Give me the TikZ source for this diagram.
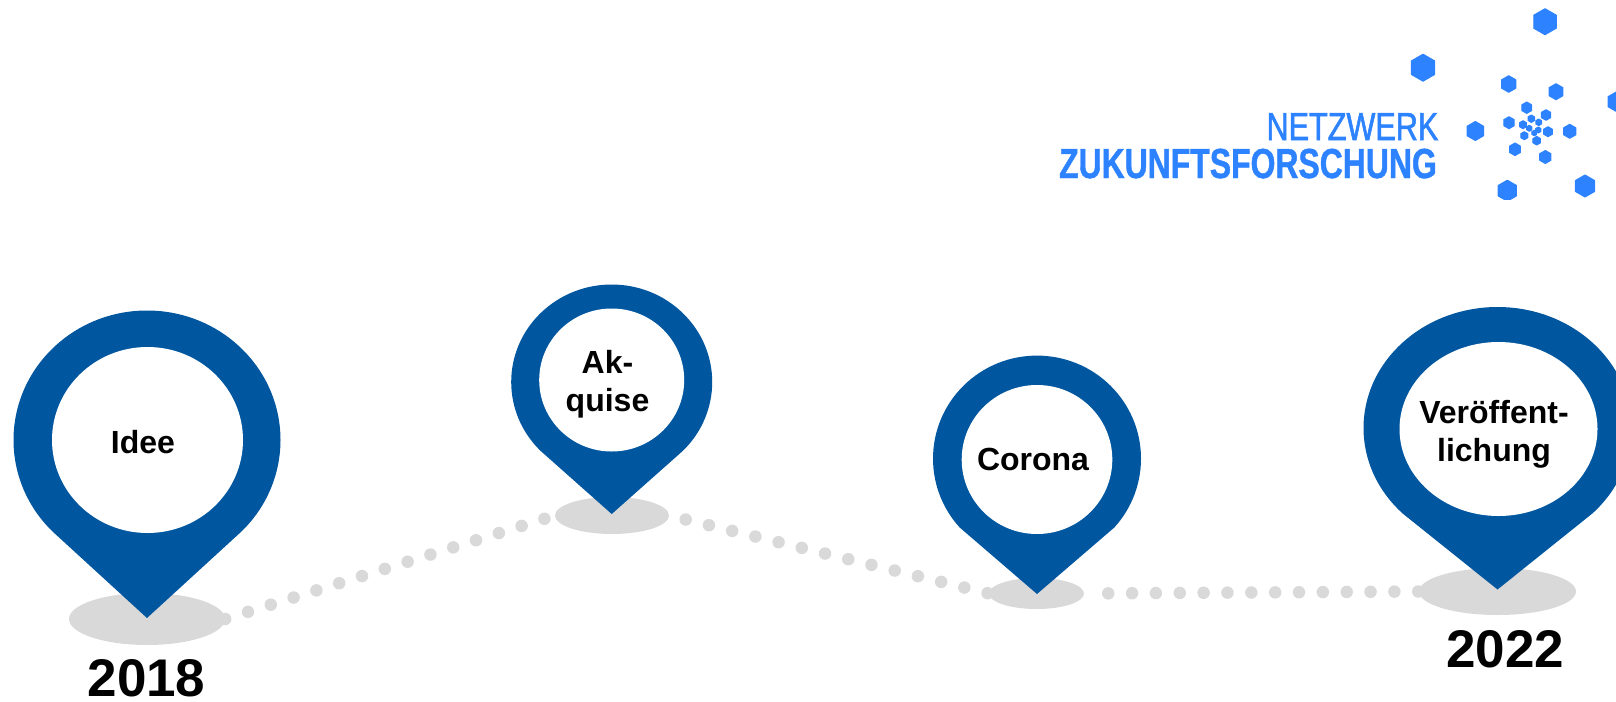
\documentclass[tikz,border=0pt]{standalone}
\usepackage{fontspec}
\setmainfont{Liberation Sans}
\newfontfamily\logoregular[FakeStretch=0.785,FakeBold=1.5]{Liberation Sans}
\newfontfamily\logobold[FakeStretch=0.76,FakeBold=1]{Liberation Sans}
\usetikzlibrary{shapes.geometric}
\definecolor{pinblue}{RGB}{1,86,160}
\definecolor{shadowgrey}{RGB}{217,217,217}
\definecolor{logoblue}{RGB}{44,130,255}
\tikzset{
  shadowell/.style={ellipse,fill=shadowgrey,inner sep=0pt,draw=none},
  dotline/.style={draw=shadowgrey,line width=12.5pt,line cap=round,dash pattern=on 0pt off #1},
  pinlabel/.style={font=\fontsize{32}{37.5}\selectfont\bfseries,align=center,text=black,inner sep=0pt},
  yearlabel/.style={font=\fontsize{53}{60}\selectfont\bfseries,text=black,inner sep=0pt},
}
\def\pinang{45}
\newcommand{\mappin}[9]{%
  \pgfmathsetmacro{\pinstart}{180-\pinang}%
  \pgfmathsetmacro{\pinend}{360+\pinang}%
  \fill[pinblue] (#1,#2) ++(\pinstart:#3 and #4) arc[start angle=\pinstart,end angle=\pinend,x radius=#3,y radius=#4] -- (#1,#9) -- cycle;
  \fill[white] (#5,#8) ellipse[x radius=#6,y radius=#7];
}
\newcommand{\hexa}[3]{%
  \filldraw[logoblue,line width=1pt,line join=round,shift={(#1,#2)}] (90:#3)--(150:#3)--(210:#3)--(270:#3)--(330:#3)--(30:#3)--cycle;
}
\begin{document}
\begin{tikzpicture}[x=1pt,y=-1pt]
\useasboundingbox (0,0) rectangle (1616,701);
\clip (0,0) rectangle (1616,701);
% shadows
\node[shadowell,minimum width=156pt,minimum height=52pt] (s1) at (147,619) {};
\node[shadowell,minimum width=114pt,minimum height=37pt] (s2) at (612,515.5) {};
\node[shadowell,minimum width=95pt,minimum height=31pt] (s3) at (1036.5,593.5) {};
\node[shadowell,minimum width=157pt,minimum height=47pt] (s4) at (1497.5,591.5) {};
% connectors
\draw[dotline=23.9pt] (s1.east) -- (s2.west);
\draw[dotline=23.9pt,shorten <=17pt] (s2.east) -- (s3.west);
\draw[dotline=23.85pt,shorten <=24pt] (s3.east) -- (s4.west);
% pins
\mappin{147}{440}{133.5}{129.5}{147.5}{95.5}{93}{440}{618}
\mappin{611.7}{382}{100.5}{97.5}{611.7}{72.5}{71.5}{380}{514}
\def\pinang{42}
\mappin{1037}{458.6}{104}{103}{1037}{75.3}{74.5}{459.5}{594}
\def\pinang{45}
\mappin{1497.5}{428}{134}{121}{1498.5}{99}{87}{429}{589.5}
% labels
\node[pinlabel] (l1) at (143,442) {Idee};
\node[pinlabel] (l2) at (607.5,384) {Ak-\\quise};
\node[pinlabel] (l3) at (1033,459) {Corona};
\node[pinlabel] (l4) at (1494,434.5) {Veröffent-\\lichung};
\node[yearlabel] (y1) at (146.5,678) {2018};
\node[yearlabel] (y2) at (1505,649) {2022};
% logo text
\node[anchor=base east,inner sep=0pt,text=logoblue,font=\fontsize{39}{44}\logoregular] (n1) at (1438.5,140) {NETZWERK};
\node[anchor=base east,inner sep=0pt,text=logoblue,font=\fontsize{42}{46}\logobold\bfseries] (n2) at (1437,178) {ZUKUNFTSFORSCHUNG};
% logo hexagons
\hexa{1545}{21.7}{13}
\hexa{1423}{67.7}{13.5}
\hexa{1508.7}{84}{8.3}
\hexa{1556}{91.7}{8}
\hexa{1616.7}{101.7}{10}
\hexa{1526.7}{107.7}{5.7}
\hexa{1546}{115}{5.3}
\hexa{1509}{122.7}{6}
\hexa{1531.3}{118.7}{3.7}
\hexa{1538.7}{122.3}{3.3}
\hexa{1523}{124.7}{4}
\hexa{1529.3}{128.3}{3}
\hexa{1538.3}{130}{3}
\hexa{1548}{131.7}{5}
\hexa{1534.3}{133}{2.8}
\hexa{1524.3}{135.7}{4}
\hexa{1536.7}{140.7}{4.3}
\hexa{1569.7}{131.3}{7}
\hexa{1475.3}{131}{9.5}
\hexa{1515}{149.3}{6.3}
\hexa{1545.3}{157}{6.5}
\hexa{1585}{186}{11}
\begin{scope}
\clip (1480,170) rectangle (1540,199);
\hexa{1507.3}{190.7}{10.5}
\end{scope}
\end{tikzpicture}
\end{document}
